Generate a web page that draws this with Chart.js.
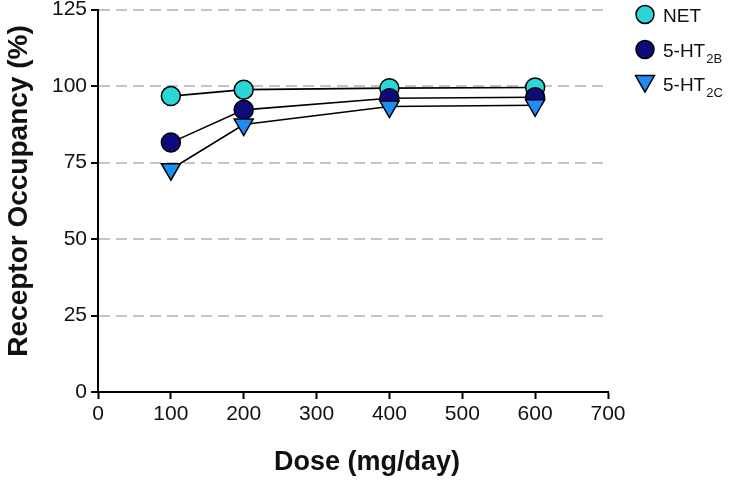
<html>

<head>
    <title>Receptor Occupancy</title>
    <meta charset="utf-8">
    <script src="https://cdn.jsdelivr.net/npm/chart.js@4/dist/chart.umd.min.js"></script>
    <style>
        body { margin: 0; background: #fff; overflow: hidden; }
        /* canvas pulled up 3px so the plot top lines up with the figure */
        #wrap { width: 735px; height: 485px; position: relative; top: -3px; }
    </style>
</head>

<body>
    <div id="wrap"><canvas id="chart"></canvas></div>

    <script>
        // dose (mg/day) and occupancy (%)
        const doses = [100, 200, 400, 600];
        const netOcc = [96.7, 98.8, 99.3, 99.5];
        const ht2bOcc = [81.5, 92.2, 96.0, 96.3];
        const ht2cOcc = [72.8, 87.4, 93.3, 93.7];

        const seriesNames = ['NET', '5-HT', '5-HT'];
        const seriesSubs = ['', '2B', '2C'];
        const seriesColors = ['#2AD6D6', '#0B0B7C', '#1E8CF5'];
        const seriesShapes = ['circle', 'circle', 'triangle'];

        const FONT = '"Liberation Sans", Arial, sans-serif';

        function toPoints(ys) {
            return doses.map((d, i) => ({ x: d, y: ys[i] }));
        }

        function makeDataset(i, ys) {
            const tri = seriesShapes[i] === 'triangle';
            return {
                label: seriesNames[i] + seriesSubs[i],
                data: toPoints(ys),
                borderColor: '#000',
                borderWidth: 1.6,
                backgroundColor: seriesColors[i],
                pointBackgroundColor: seriesColors[i],
                pointBorderColor: '#000',
                pointBorderWidth: 1.5,
                pointStyle: seriesShapes[i],
                pointRotation: tri ? 180 : 0,
                pointRadius: tri ? 11 : 9.5,
                pointHoverRadius: tri ? 11 : 9.5,
                tension: 0,
                fill: false,
                clip: false,
                order: 3 - i   /* NET underneath, 5-HT2C on top */
            };
        }

        /* legend with subscripts + axis titles, drawn on the canvas */
        const extras = {
            id: 'extras',
            afterDraw(chart) {
                const ctx = chart.ctx;
                const rows = [17.5, 52.5, 87];
                ctx.save();
                for (let i = 0; i < seriesNames.length; i++) {
                    const tri = seriesShapes[i] === 'triangle';
                    const cy = rows[i];
                    ctx.fillStyle = seriesColors[i];
                    ctx.strokeStyle = '#000';
                    ctx.lineWidth = 1.5;
                    Chart.helpers.drawPoint(ctx, {
                        pointStyle: seriesShapes[i],
                        radius: tri ? 11 : 9,
                        rotation: tri ? 180 : 0,
                        borderWidth: 1.5
                    }, 645, tri ? cy - 3 : cy);

                    ctx.fillStyle = '#111';
                    ctx.textBaseline = 'alphabetic';
                    ctx.textAlign = 'left';
                    ctx.font = '19px ' + FONT;
                    ctx.fillText(seriesNames[i], 663, cy + 7);
                    if (seriesSubs[i]) {
                        const w = ctx.measureText(seriesNames[i]).width;
                        ctx.font = '13px ' + FONT;
                        ctx.fillText(seriesSubs[i], 663 + w + 1, cy + 13);
                    }
                }

                ctx.textAlign = 'center';
                ctx.textBaseline = 'middle';
                ctx.font = 'bold 27px ' + FONT;
                ctx.fillText('Dose (mg/day)', 367, 466);

                ctx.translate(19, 194);
                ctx.rotate(-Math.PI / 2);
                ctx.font = 'bold 28px ' + FONT;
                ctx.fillText('Receptor Occupancy (%)', 0, 0);
                ctx.restore();
            }
        };

        const canvas = document.getElementById('chart');

        new Chart(canvas, {
            type: 'line',
            data: {
                datasets: [
                    makeDataset(0, netOcc),
                    makeDataset(1, ht2bOcc),
                    makeDataset(2, ht2cOcc)
                ]
            },
            options: {
                responsive: true,
                maintainAspectRatio: false,
                animation: false,
                layout: { padding: { top: 6, right: 127, left: 0, bottom: 0 } },
                plugins: {
                    legend: { display: false },
                    tooltip: { enabled: false }
                },
                scales: {
                    x: {
                        type: 'linear',
                        min: 0,
                        max: 700,
                        ticks: {
                            stepSize: 100,
                            color: '#111',
                            padding: 3,
                            font: { family: FONT, size: 21 }
                        },
                        grid: {
                            drawOnChartArea: false,
                            drawTicks: true,
                            tickLength: 7,
                            tickColor: '#000',
                            tickWidth: 2
                        },
                        border: { display: true, color: '#000', width: 2 },
                        afterFit(scale) { scale.height = 90; }
                    },
                    y: {
                        min: 0,
                        max: 125,
                        ticks: {
                            stepSize: 25,
                            color: '#111',
                            padding: 4,
                            font: { family: FONT, size: 21, lineHeight: 0.8 }
                        },
                        grid: {
                            color: ctx => (ctx.tick && ctx.tick.value === 0) ? 'rgba(0,0,0,0)' : '#C4C4C4',
                            lineWidth: 2,
                            tickLength: 7,
                            tickColor: '#000',
                            tickWidth: 2
                        },
                        border: { display: true, color: '#000', width: 2, dash: [11, 6] },
                        afterFit(scale) { scale.width = 98; }
                    }
                }
            },
            plugins: [extras]
        });
    </script>
</body>

</html>
